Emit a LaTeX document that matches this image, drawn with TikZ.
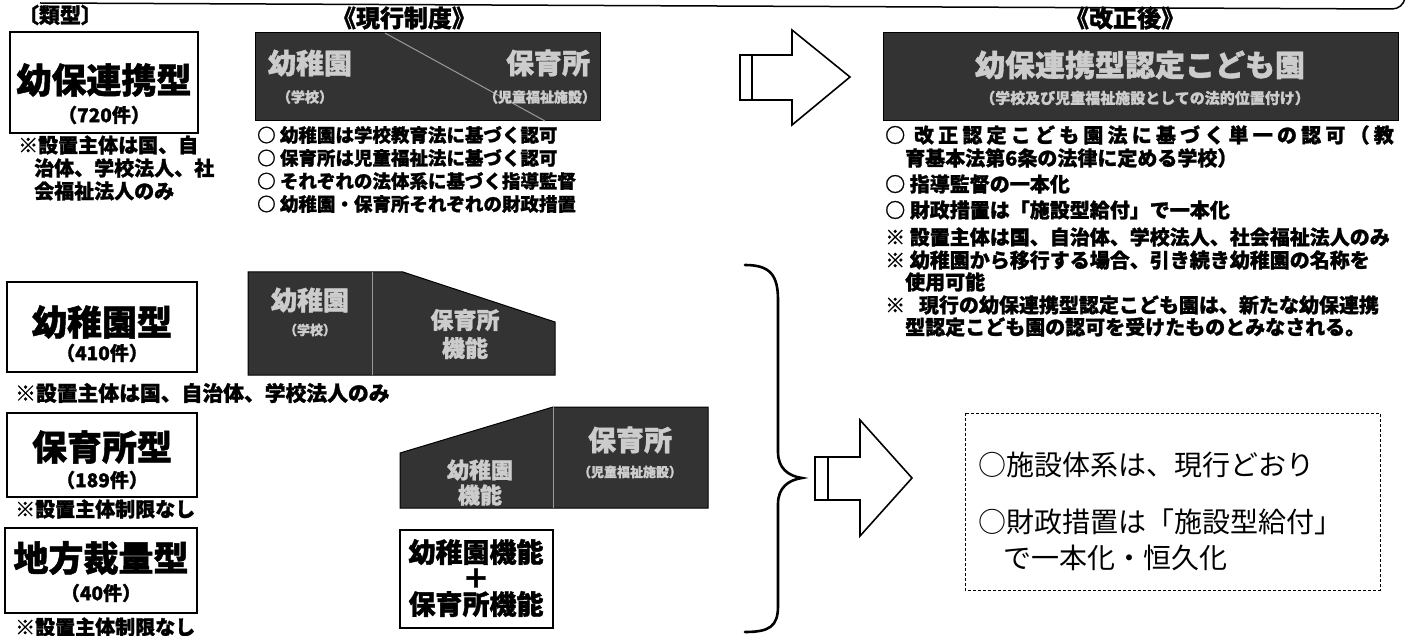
\documentclass[tikz,border=0pt]{standalone}
\usepackage{fontspec}
\setmainfont{Noto Sans CJK JP}[BoldFeatures={FakeBold=1.3}]
\begin{document}
\begin{tikzpicture}[x=1pt,y=-1pt,
  every node/.style={inner sep=0pt,font=\bfseries},
  fs/.style={font=\fontsize{#1}{#1}\selectfont\bfseries},
  fsr/.style={font=\fontsize{#1}{#1}\selectfont},
  frameline/.style={line width=1.8pt},
  darkbox/.style={fill=black!80,draw=black,line width=1pt},
  darktext/.style={text=white!80!black},
  divline/.style={draw=white!60!black,line width=1pt},
  item/.style={anchor=west},
  arrowshape/.style={draw,line width=1.6pt,fill=white,line join=miter},
]
\useasboundingbox (0,0) rectangle (1413,636);

% top frame line
\coordinate (fl) at (40,3);
\coordinate (fr) at (1392,9);
\coordinate (fe) at (1405,-2);
\draw[line width=1.5pt] (fl) -- (fr) to[out=0,in=-100] (fe);

% headings
\node[fs=21] (hType) at (60,15) {〔類型〕};
\node[fs=24] (hCur) at (404,18) {《現行制度》};
\node[fs=24] (hNew) at (1125,18) {《改正後》};

% ---------------- left column: types
\draw[frameline] (10,32) rectangle (198,133);
\node[fs=35] (t1) at (104,80) {幼保連携型};
\node[fs=19] (t1n) at (104,115) {（720件）};
\node[fs=20,item] (n1a) at (18,145) {※設置主体は国、自};
\node[fs=20,item] (n1b) at (34,168) {治体、学校法人、社};
\node[fs=20,item] (n1c) at (34,191) {会福祉法人のみ};

\draw[frameline] (7,282) rectangle (197,372);
\node[fs=35] (t2) at (102,322) {幼稚園型};
\node[fs=19] (t2n) at (102,353) {（410件）};
\node[fs=20.8,item] (n2) at (15,393) {※設置主体は国、自治体、学校法人のみ};

\draw[frameline] (7,413) rectangle (197,497);
\node[fs=35] (t3) at (102,447) {保育所型};
\node[fs=19] (t3n) at (102,480) {（189件）};
\node[fs=20,item] (n3) at (15,509) {※設置主体制限なし};

\draw[frameline] (5,528) rectangle (197,613);
\node[fs=35] (t4) at (101,558) {地方裁量型};
\node[fs=19] (t4n) at (101,593) {（40件）};
\node[fs=20,item] (n4) at (15,627) {※設置主体制限なし};

% ---------------- current system: 幼保連携型
\draw[darkbox] (255,33) rectangle (600,121);
\draw[divline] (385,33) -- (545,121);
\node[fs=28,darktext] (c1a) at (310,63) {幼稚園};
\node[fs=14,darktext] (c1b) at (305,97) {（学校）};
\node[fs=28,darktext] (c1c) at (548,63) {保育所};
\node[fs=14,darktext] (c1d) at (540,97) {（児童福祉施設）};

\node[fs=18.5,item] (b1) at (257,135) {○ 幼稚園は学校教育法に基づく認可};
\node[fs=18.5,item] (b2) at (257,158) {○ 保育所は児童福祉法に基づく認可};
\node[fs=18.5,item] (b3) at (257,181) {○ それぞれの法体系に基づく指導監督};
\node[fs=18.5,item] (b4) at (257,204) {○ 幼稚園・保育所それぞれの財政措置};

% current: 幼稚園型
\draw[darkbox] (248,272) -- (403,272) -- (555,322) -- (555,375) -- (248,375) -- cycle;
\draw[divline] (372,272) -- (372,375);
\node[fs=26,darktext] (c2a) at (310,300) {幼稚園};
\node[fs=13,darktext] (c2b) at (310,330) {（学校）};
\node[fs=23,darktext] (c2c) at (465,320) {保育所};
\node[fs=23,darktext] (c2d) at (465,348) {機能};

% current: 保育所型
\draw[darkbox] (400,453) -- (553,407) -- (708,407) -- (708,508) -- (400,508) -- cycle;
\draw[divline] (553,407) -- (553,508);
\node[fs=22,darktext] (c3a) at (480,470) {幼稚園};
\node[fs=22,darktext] (c3b) at (480,495) {機能};
\node[fs=28,darktext] (c3c) at (630,440) {保育所};
\node[fs=13,darktext] (c3d) at (630,472) {（児童福祉施設）};

% current: 地方裁量型
\draw[line width=1.5pt] (400,530) rectangle (553,628);
\node[align=center,font=\fontsize{27}{26}\selectfont\bfseries] (c4) at (476,578) {幼稚園機能\\＋\\保育所機能};

% brace
\draw[line width=2.6pt,line cap=round] (745,265) .. controls (770,265) and (778,275) .. (778,300)
  -- (778,452) .. controls (778,468) and (788,476) .. (802,478)
  .. controls (788,480) and (778,488) .. (778,504)
  -- (778,606) .. controls (778,626) and (770,632) .. (745,632);

% arrows
\draw[arrowshape] (740,55) rectangle (752,100);
\draw[arrowshape] (752,55) -- (792,55) -- (792,30) -- (850,77) -- (792,125) -- (792,100) -- (752,100) -- cycle;
\draw[arrowshape] (815,457) rectangle (828,500);
\draw[arrowshape] (828,457) -- (860,457) -- (860,420) -- (912,478) -- (860,536) -- (860,500) -- (828,500) -- cycle;

% ---------------- revised
\draw[darkbox] (883,33) rectangle (1398,121);
\node[fs=30,darktext] (r1) at (1140,65) {幼保連携型認定こども園};
\node[fs=15,darktext] (r2) at (1145,98) {（学校及び児童福祉施設としての法的位置付け）};

\node[fs=20,item] (rb1) at (885,135) {\addfontfeature{LetterSpace=21}○ 改正認定こども園法に基づく単一の認可（教};
\node[fs=20,item] (rb1b) at (905,158) {育基本法第6条の法律に定める学校）};
\node[fs=20,item] (rb2) at (885,184) {○ 指導監督の一本化};
\node[fs=20,item] (rb3) at (885,210) {○ 財政措置は「施設型給付」で一本化};
\node[fs=20,item] (rn1) at (885,237) {※ 設置主体は国、自治体、学校法人、社会福祉法人のみ};
\node[fs=20,item] (rn2) at (885,260) {※ 幼稚園から移行する場合、引き続き幼稚園の名称を};
\node[fs=20,item] (rn2b) at (905,282) {使用可能};
\node[fs=20,item] (rn3) at (885,305) {※\ \ \ 現行の幼保連携型認定こども園は、新たな幼保連携};
\node[fs=20,item] (rn3b) at (905,327) {型認定こども園の認可を受けたものとみなされる。};

\draw[dash pattern=on 3pt off 2pt,line width=1pt] (965,413) rectangle (1380,590);
\node[fsr=28,item] (d1) at (978,465) {○施設体系は、現行どおり};
\node[fsr=28,item] (d2) at (978,522) {○財政措置は「施設型給付」};
\node[fsr=28,item] (d3) at (1003,558) {で一本化・恒久化};
\end{tikzpicture}
\end{document}
